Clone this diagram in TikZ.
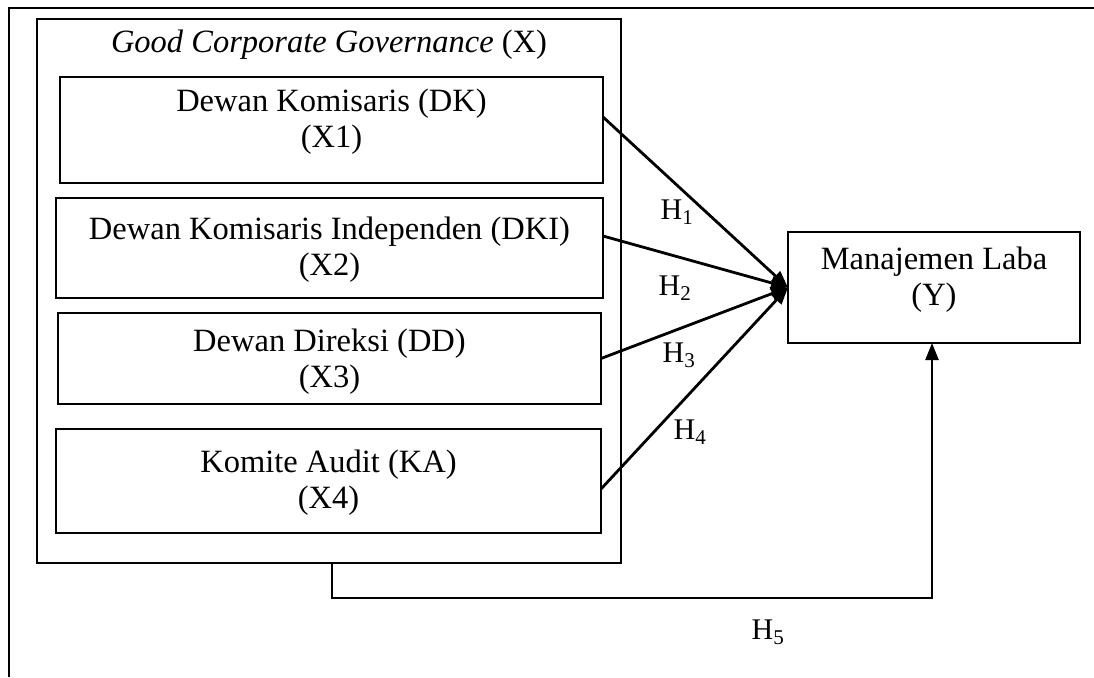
\documentclass[tikz,border=0pt]{standalone}
\usepackage{fontspec}
\setmainfont{Liberation Serif}
\usetikzlibrary{arrows.meta,calc}
\begin{document}
\begin{tikzpicture}[x=1pt,y=-1pt,
  frame/.style={line width=2.2pt},
  box/.style={draw,line width=2.4pt,inner sep=0pt,outer sep=0pt},
  txt/.style={align=center,font=\fontsize{32.5}{36}\selectfont,inner sep=0pt},
  hlab/.style={font=\fontsize{30}{32}\selectfont,inner sep=0pt},
  arr/.style={line width=2.8pt,-{Triangle[length=17pt,width=13pt]}}]
\useasboundingbox (0,0) rectangle (1094,677);
% outer frame (partially visible)
\draw[frame] (9,677) -- (9,8) -- (1094,8);
% GCG container
\node[box,minimum width=584pt,minimum height=544pt] (gcg) at (329,291) {};
\node[txt] (gcgt) at (329,45) {\textit{Good Corporate Governance} (X)};
% inner boxes
\node[box,minimum width=543pt,minimum height=106pt] (b1) at (331.5,130) {};
\node[txt] (b1t) at (331.5,122) {Dewan Komisaris (DK)\\(X1)};
\node[box,minimum width=547pt,minimum height=100pt] (b2) at (329.5,248) {};
\node[txt] (b2t) at (329.5,250) {Dewan Komisaris Independen (DKI)\\(X2)};
\node[box,minimum width=543pt,minimum height=91pt] (b3) at (329.5,358.5) {};
\node[txt] (b3t) at (329.5,362) {Dewan Direksi (DD)\\(X3)};
\node[box,minimum width=545pt,minimum height=104pt] (b4) at (328.5,481) {};
\node[txt] (b4t) at (328.5,483) {Komite Audit (KA)\\(X4)};
% dependent variable
\node[box,minimum width=292pt,minimum height=111pt] (y) at (934,287.5) {};
\node[txt] (yt) at (934,279.5) {Manajemen Laba\\(Y)};
% arrows
\draw[arr] ([yshift=13pt]b1.east) -- (y.west);
\draw[arr] ([yshift=12pt]b2.east) -- (y.west);
\draw[arr] (b3.east) -- (y.west);
\draw[arr] ([yshift=-8pt]b4.east) -- (y.west);
\draw[line width=2.4pt,-{Triangle[length=17pt,width=13pt]}] ([xshift=3pt]gcg.south) -- ++(0,35) -| ([xshift=-2pt]y.south);
% labels
\node[hlab] (h1) at (677,212) {H\textsubscript{1}};
\node[hlab] (h2) at (675,288) {H\textsubscript{2}};
\node[hlab] (h3) at (679,355) {H\textsubscript{3}};
\node[hlab] (h4) at (690,432) {H\textsubscript{4}};
\node[hlab] (h5) at (768,632) {H\textsubscript{5}};
\end{tikzpicture}
\end{document}
